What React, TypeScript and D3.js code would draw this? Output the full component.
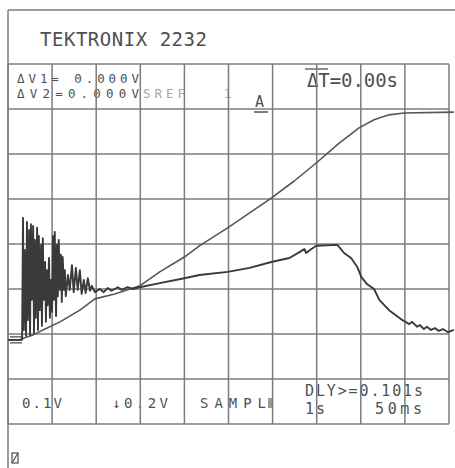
import React from "react";
import * as d3 from "d3";

// Screen geometry of the storage scope graticule (10 x 8 divisions)
const W = 455;
const H = 468;
const COLS = 10;
const ROWS = 8;

// CH trace 1: slow ramp that saturates (time in divisions, level in divisions from centre)
const TRACE1_T = [0, 0.27, 0.36, 0.57, 0.84, 1.18, 1.63, 1.97, 2.42, 2.99, 3.44, 4.0, 4.34, 4.98, 5.48, 5.97, 6.49, 6.99, 7.51, 7.96, 8.3, 8.64, 8.98, 10.11];
const TRACE1_V = [-2.13, -2.13, -2.09, -2.02, -1.89, -1.73, -1.47, -1.22, -1.11, -0.93, -0.62, -0.29, -0.04, 0.36, 0.69, 1.02, 1.4, 1.8, 2.24, 2.58, 2.76, 2.87, 2.91, 2.93];

// CH trace 2: ringing burst, slow rise, plateau and decay
const TRACE2_T = [
  0, 0.32, 0.34, 0.36, 0.38, 0.41, 0.43, 0.45, 0.48, 0.5, 0.52, 0.54, 0.57, 0.59, 0.61, 0.63, 0.66, 0.68, 0.7, 0.72, 0.75,
  0.77, 0.79, 0.81, 0.84, 0.86, 0.88, 0.9, 0.93, 0.95, 0.97, 1.0, 1.02, 1.04, 1.06, 1.09, 1.11, 1.13, 1.15, 1.18, 1.2,
  1.22, 1.24, 1.27, 1.29, 1.31, 1.36, 1.4, 1.45, 1.49, 1.54, 1.58, 1.63, 1.67, 1.72, 1.76, 1.81, 1.86, 1.9, 1.97,
  2.08, 2.17, 2.26, 2.35, 2.49, 2.58, 2.71, 2.83, 2.99, 3.44, 4.0, 4.34, 4.98, 5.48, 5.97, 6.38, 6.61, 6.72, 6.76, 6.88,
  6.99, 7.47, 7.62, 7.78, 7.92, 8.01, 8.14, 8.3, 8.42, 8.64, 8.94, 8.98, 9.1, 9.16, 9.28, 9.34, 9.43, 9.5, 9.59, 9.68,
  9.77, 9.86, 9.98, 10.11,
];
const TRACE2_V = [
  -2.13, -2.13, 0.58, -1.91, -0.13, -2.04, 0.49, -1.69, 0.31, -2.02, 0.44, -1.24, 0.4, -1.98, 0.09, -1.64, 0.36, -1.91, 0.18, -1.47, -0.02,
  -1.82, 0.13, -1.24, -0.4, -1.73, -0.58, -1.36, -0.31, -1.64, -0.8, -1.51, 0.18, -1.24, 0.27, -1.6, -0.02, -1.16, 0.09, -1.02, -0.24,
  -1.29, -0.29, -1.02, -0.58, -1.16, -0.69, -1.02, -0.47, -1.07, -0.53, -1.02, -0.58, -1.11, -0.8, -1.09, -0.76, -1.04, -0.93, -1.07,
  -1.0, -1.07, -0.98, -1.04, -0.96, -1.02, -0.96, -1.0, -0.96, -0.87, -0.76, -0.69, -0.62, -0.53, -0.4, -0.31, -0.18, -0.11, -0.2, -0.11,
  -0.04, -0.02, -0.2, -0.31, -0.51, -0.73, -0.89, -1.0, -1.24, -1.47, -1.69, -1.71, -1.78, -1.73, -1.84, -1.8, -1.89, -1.84, -1.91, -1.87,
  -1.93, -1.89, -1.96, -1.91,
];

// On-screen readouts
const TITLE = "TEKTRONIX 2232";
const READ_DV1 = "ΔV1= 0.000V";
const READ_DV2 = "ΔV2=0.000V";
const READ_SREF = "SREF";
const READ_SREF_NUM = "1";
const READ_SREF_CH = "A";
const READ_DT = "ΔT=0.00s";
const READ_CH1 = "0.1V";
const READ_CH2 = "↓0.2V";
const READ_MODE = "SAMPL";
const READ_DLY = "DLY>=0.101s";
const READ_DLY_TIME = "1s";
const READ_SWEEP = "50ms";

const INK = "#505050";
const GRID = "#7c7c7c";
const FONT = "'DejaVu Sans Mono', 'Liberation Mono', monospace";

export default function App() {
  const x = d3.scaleLinear().domain([0, COLS]).range([8, 449]);
  const y = d3.scaleLinear().domain([-ROWS / 2, ROWS / 2]).range([424, 64]);

  const line = d3
    .line<[number, number]>()
    .x((d) => x(d[0]))
    .y((d) => y(d[1]));

  const t1 = TRACE1_T.map((t, i) => [t, TRACE1_V[i]] as [number, number]);
  const t2 = TRACE2_T.map((t, i) => [t, TRACE2_V[i]] as [number, number]);

  const cols = d3.range(COLS + 1);
  const rows = d3.range(ROWS + 1);

  const txt = (
    s: string,
    px: number,
    py: number,
    size: number,
    len?: number,
    fill: string = INK
  ) => (
    <text
      x={px}
      y={py}
      fontSize={size}
      fontFamily={FONT}
      fill={fill}
      textLength={len}
      lengthAdjust={len ? "spacing" : undefined}
    >
      {s}
    </text>
  );

  return (
    <svg
      width={W}
      height={H}
      viewBox={`0 0 ${W} ${H}`}
      style={{ position: "absolute", left: 0, top: 0, background: "#fff" }}
    >
      <rect width={W} height={H} fill="#fff" />

      {/* readouts */}
      {txt(TITLE, 40, 46, 19, 167)}
      {txt(READ_DV1, 17, 83, 12.5, 122)}
      {txt(READ_DV2, 17, 98, 12.5, 122)}
      {txt(READ_SREF, 143, 98, 12.5, 42, "#a8a8a8")}
      {txt(READ_SREF_NUM, 224, 98, 12.5, undefined, "#a8a8a8")}
      {txt(READ_SREF_CH, 255, 107, 15)}
      <line x1={254} x2={268} y1={112} y2={112} stroke={INK} strokeWidth={1.5} />
      {txt(READ_DT, 307, 87, 19, 91)}
      <line x1={305} x2={328} y1={69} y2={69} stroke={INK} strokeWidth={1.3} />
      {txt(READ_CH1, 22, 408, 14, 40)}
      {txt(READ_CH2, 112, 408, 14, 56)}
      {txt(READ_MODE, 200, 408, 14, 66)}
      <rect x={268} y={398} width={5} height={10} fill="#9a9a9a" />
      {txt(READ_DLY, 305, 396, 15, 118)}
      {txt(READ_DLY_TIME, 305, 414, 15, 20)}
      {txt(READ_SWEEP, 375, 414, 15, 47)}

      {/* frame and graticule */}
      <g stroke={GRID} strokeWidth={1.5} fill="none">
        <line x1={8} x2={W} y1={10} y2={10} />
        <line x1={8} x2={8} y1={10} y2={H} />
        {cols.map((c) => (
          <line key={"c" + c} x1={x(c)} x2={x(c)} y1={y(ROWS / 2)} y2={y(-ROWS / 2)} />
        ))}
        {rows.map((r) => (
          <line key={"r" + r} x1={x(0)} x2={x(COLS)} y1={y(r - ROWS / 2)} y2={y(r - ROWS / 2)} />
        ))}
      </g>

      {/* ground reference marker */}
      <g stroke={INK} strokeWidth={1.3}>
        <line x1={10} x2={22} y1={y(-2.13) - 3} y2={y(-2.13) - 3} />
        <line x1={10} x2={22} y1={y(-2.13) + 3} y2={y(-2.13) + 3} />
      </g>

      {/* traces */}
      <path d={line(t1) ?? ""} fill="none" stroke="#555" strokeWidth={1.6} strokeLinejoin="round" />
      <path d={line(t2) ?? ""} fill="none" stroke="#3a3a3a" strokeWidth={1.9} strokeLinejoin="round" />

      {/* small status glyph */}
      <g stroke={INK} strokeWidth={1.2} fill="none">
        <rect x={12} y={453} width={6} height={10} />
        <line x1={12} y1={463} x2={18} y2={453} />
      </g>
    </svg>
  );
}
